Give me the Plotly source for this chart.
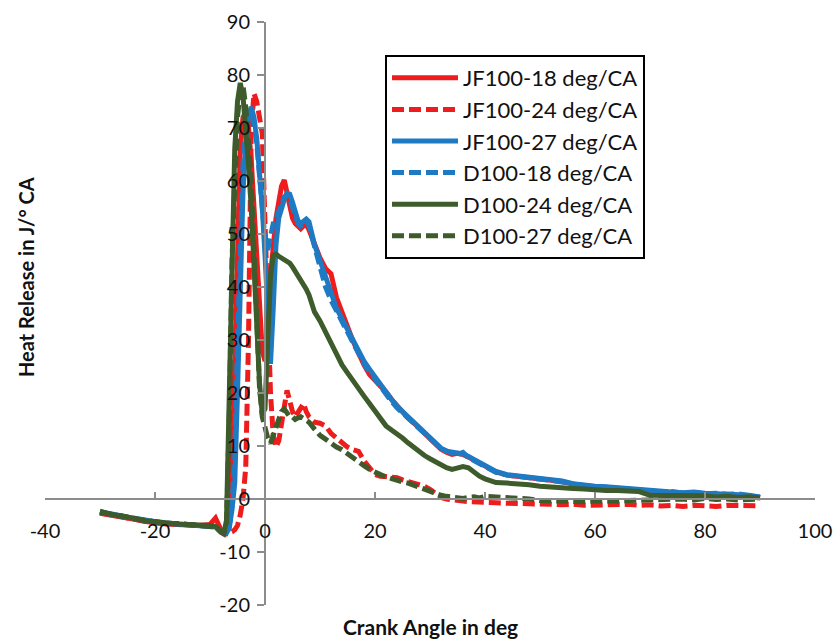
import plotly.graph_objects as go

# Crank angle grid (deg)
crank_angle = [
    -30, -28, -26, -24, -22, -20, -18, -16, -14, -12, -10,
    -9, -8, -7.5, -7, -6.5, -6, -5.5, -5, -4.5, -4,
    -3.5, -3, -2.5, -2, -1.5, -1, -0.5, 0, 0.5, 1,
    1.5, 2, 2.5, 3, 3.5, 4, 4.5, 5, 5.5, 6,
    6.5, 7, 7.5, 8, 9, 10, 11, 12, 13, 14,
    15, 16, 17, 18, 19, 20, 21, 22, 23, 24,
    25, 26, 27, 28, 29, 30, 31, 32, 33, 34,
    35, 36, 37, 38, 39, 40, 42, 44, 46, 48,
    50, 52, 54, 56, 58, 60, 62, 64, 66, 68,
    70, 72, 74, 76, 78, 80, 82, 84, 86, 88, 90,
]

jf100_18 = [
    -2.7, -3.0, -3.4, -3.8, -4.2, -4.5, -4.7, -4.8, -4.9, -5.0, -4.8,
    -3.6, -5.8, -6.3, -6.2, -4.5, 5, 28, 52, 66, 72,
    73, 70, 64, 55, 45, 35, 28, 26, 32, 42,
    49, 53, 56, 59, 60.2, 58, 55, 53, 52, 51.5,
    51, 51.5, 51.8, 50.8, 48, 45.5, 43.5, 42.5, 38, 35,
    32.5, 29.8, 27.5, 25.3, 23.5, 22.5, 21.5, 20.2, 18.8, 17.6,
    16.4, 15.3, 14.4, 13.4, 12.5, 11.6, 10.6, 9.4, 8.8, 8.4,
    8.6, 8.4, 7.9, 7.3, 6.7, 6.1, 5.1, 4.5, 4.3, 4.1,
    3.9, 3.6, 3.3, 2.8, 2.5, 2.3, 2.2, 2.0, 1.9, 1.7,
    1.4, 1.2, 1.2, 1.1, 1.2, 1.0, 0.9, 1.0, 0.8, 0.6, 0.3,
]

jf100_24 = [
    -2.6, -3.0, -3.3, -3.8, -4.2, -4.5, -4.6, -4.8, -4.9, -5.0, -5.1,
    -5.3, -6.3, -6.6, -6.6, -6.5, -6.2, -5.8, -5.0, -3.0, 0.0,
    6, 30, 70, 76.5, 75, 72, 69, 52, 34, 20,
    12, 9.8, 11, 14.5, 17, 20.5, 18.5, 16.5, 15.5, 16.5,
    17.5, 18, 16.5, 15.5, 14.5, 14.3, 13.8, 12.4, 11.5, 10.5,
    9.8, 9.3, 9.0, 7.2, 6.0, 4.6, 4.3, 4.2, 4.3, 4.0,
    3.6, 3.3, 3.0, 2.7, 2.4, 1.8, 0.9, 0.3, 0.0, -0.2,
    -0.3, -0.4, -0.5, -0.5, -0.6, -0.6, -0.7, -0.8, -0.8, -0.9,
    -1.0, -1.0, -1.1, -1.0, -1.2, -1.1, -1.2, -1.1, -1.0, -1.2,
    -1.1, -1.3, -1.2, -1.4, -1.2, -1.3, -1.4, -1.2, -1.3, -1.2, -1.3,
]

jf100_27 = [
    -2.4, -2.9, -3.2, -3.6, -4.0, -4.4, -4.6, -4.7, -4.9, -4.9, -5.1,
    -5.3, -6.1, -6.5, -6.4, -5.5, -2, 3, 20, 40, 58,
    67, 72, 74, 72, 68, 62, 55, 46, 33, 25.5,
    36, 48, 53, 55, 56.5, 57.7, 57.5, 56, 54, 52.5,
    52, 52.5, 52.8, 52.3, 48, 45, 42, 39, 36, 34,
    32, 29.5, 27.8, 26, 24.5, 23, 21.5, 20, 18.8, 17.5,
    16.5, 15.5, 14.5, 13.5, 12.6, 11.8, 10.8, 9.6, 9.0, 8.8,
    8.7, 8.5, 8.0, 7.4, 6.8, 6.2, 5.2, 4.6, 4.4, 4.2,
    4.0, 3.7, 3.4, 2.9, 2.6, 2.4, 2.3, 2.1, 2.0, 1.8,
    1.5, 1.3, 1.3, 1.2, 1.3, 1.1, 1.0, 1.1, 0.9, 0.7, 0.4,
]

d100_18 = [
    -2.5, -2.8, -3.3, -3.7, -4.1, -4.3, -4.5, -4.7, -4.8, -5.0, -5.0,
    -5.2, -6.2, -6.5, -6.3, -5.2, -1, 8, 30, 50, 63,
    70, 73, 73.5, 71, 67, 61, 54, 49, 47, 50,
    52, 53, 54, 55.5, 57, 57.5, 56.5, 55, 53, 52,
    51.5, 52, 52.5, 51.5, 47.5, 43.5, 40, 37.5, 35.5, 33.5,
    31.5, 29, 27, 25.5, 24, 22.5, 21, 19.6, 18.4, 17.2,
    16.2, 15.2, 14.2, 13.3, 12.3, 11.4, 10.4, 9.5, 9.1, 8.6,
    8.4, 8.8, 7.8, 7.2, 6.6, 6.0, 5.0, 4.5, 4.3, 4.1,
    3.8, 3.5, 3.2, 2.8, 2.5, 2.3, 2.2, 2.0, 1.9, 1.7,
    1.4, 1.2, 1.4, 1.1, 1.2, 1.0, 1.1, 0.9, 1.0, 0.6, 0.3,
]

d100_24 = [
    -2.5, -2.8, -3.3, -3.6, -4.1, -4.4, -4.5, -4.7, -4.8, -4.8, -5.0,
    -5.2, -6.0, -6.5, -4.0, 22, 50, 66, 75, 78.5, 76,
    70, 63, 55, 44, 32, 22, 16, 17, 30, 42,
    46, 46.2, 45.8, 45.5, 45.2, 45, 44.5, 43.8, 43, 42.2,
    41.3, 40.5, 39.6, 38.5, 35.3, 33.6, 31.5, 29.5, 27.5, 25.3,
    23.8, 22.2, 20.8, 19.4, 18.0, 16.6, 15.2, 13.8, 13.0, 12.3,
    11.5, 10.6, 9.7, 9.0, 8.2, 7.6, 7.0, 6.3, 5.9, 5.6,
    5.8, 6.1, 5.9, 5.0, 4.3, 3.8, 3.1, 3.0, 2.9, 2.7,
    2.4, 2.2, 2.1, 2.0, 1.9, 1.7, 1.6, 1.6, 1.5, 1.4,
    0.7, 0.7, 0.6, 0.6, 0.5, 0.6, 0.4, 0.5, 0.3, 0.4, 0.2,
]

d100_27 = [
    -2.3, -2.9, -3.2, -3.7, -4.0, -4.3, -4.6, -4.6, -4.8, -4.9, -5.0,
    -5.3, -6.2, -6.4, -5.0, 15, 45, 62, 72, 77, 78,
    74, 67, 60, 47, 35, 21, 15.5, 13.5, 11.5, 10.5,
    12, 14, 15.5, 16.5, 17, 16, 15.5, 15.5, 15, 15.3,
    15.5, 15.2, 14.8, 14.5, 13.2, 12, 11.3, 10.5, 9.8, 9.3,
    8.5, 7.8, 7.0, 6.3, 5.6, 5.0, 4.6, 4.2, 3.8, 3.6,
    3.2, 3.0, 2.6, 2.3, 2.0, 1.5, 1.0, 0.7, 0.5, 0.3,
    0.2, 0.1, 0.3, 0.4, 0.2, 0.5, 0.4, 0.3, 0.2, 0.0,
    -0.3, -0.4, -0.5, -0.4, -0.5, -0.4, -0.5, -0.4, -0.3, -0.2,
    -0.1, 0.0, -0.1, 0.0, -0.2, 0.1, -0.1, 0.0, -0.2, -0.1, 0.0,
]

series_names = ["JF100-18 deg/CA", "JF100-24 deg/CA", "JF100-27 deg/CA",
                "D100-18 deg/CA", "D100-24 deg/CA", "D100-27 deg/CA"]
series_values = [jf100_18, jf100_24, jf100_27, d100_18, d100_24, d100_27]

x_ticks = [-40, -20, 0, 20, 40, 60, 80, 100]
y_ticks = [-20, -10, 0, 10, 20, 30, 40, 50, 60, 70, 80, 90]

RED = "#EE1C1C"
BLUE = "#1F7AC4"
GREEN = "#3D5B2B"
styles = [(RED, "solid"), (RED, "12px,5px"), (BLUE, "solid"),
          (BLUE, "12px,5px"), (GREEN, "solid"), (GREEN, "12px,5px")]

FONT = "Lato, 'Open Sans', sans-serif"

fig = go.Figure()
for name, vals, (col, dash) in zip(series_names, series_values, styles):
    fig.add_trace(go.Scatter(
        x=crank_angle, y=vals, mode="lines", name=name,
        line=dict(color=col, width=5, dash=dash),
    ))

xmin, xmax = -40, 100
ymin, ymax = -20, 90
L, R, T, B = 45, 20, 22, 36
W, H = 835, 641
pw, ph = W - L - R, H - T - B


def px_x(px):
    return (px - L) / pw


def px_y(py):
    return (H - B - py) / ph


fig.update_layout(
    width=W, height=H,
    margin=dict(l=L, r=R, t=T, b=B, autoexpand=False),
    paper_bgcolor="white", plot_bgcolor="white",
    font=dict(family=FONT, size=20, color="#111111"),
    showlegend=True,
    legend=dict(
        x=px_x(385), y=px_y(55), xanchor="left", yanchor="top",
        bordercolor="black", borderwidth=2, bgcolor="white",
        font=dict(family=FONT, size=22, color="#111111"),
        itemwidth=66, tracegroupgap=0,
    ),
    xaxis=dict(
        range=[xmin, xmax], tickvals=x_ticks, ticktext=[str(v) for v in x_ticks],
        anchor="free", position=(0 - ymin) / (ymax - ymin), automargin=False,
        showgrid=False, zeroline=False,
        showline=True, linecolor="#8C8C8C", linewidth=2,
        ticks="inside", ticklen=6, tickwidth=2, tickcolor="#8C8C8C",
        ticklabelstandoff=14,
        tickfont=dict(family=FONT, size=20, color="#111111"),
    ),
    yaxis=dict(
        range=[ymin, ymax], tickvals=y_ticks, ticktext=[str(v) for v in y_ticks],
        anchor="free", position=(0 - xmin) / (xmax - xmin), automargin=False,
        showgrid=False, zeroline=False,
        showline=True, linecolor="#8C8C8C", linewidth=2,
        ticks="outside", ticklen=7, tickwidth=2, tickcolor="#8C8C8C",
        ticklabelstandoff=3,
        tickfont=dict(family=FONT, size=20, color="#111111"),
    ),
    annotations=[
        dict(text="<b>Crank Angle in deg</b>", xref="paper", yref="paper",
             x=px_x(430), y=px_y(626), xanchor="center", yanchor="middle",
             showarrow=False, font=dict(family=FONT, size=21, color="#111111")),
        dict(text="<b>Heat Release in J/° CA</b>", xref="paper", yref="paper",
             x=px_x(26), y=px_y(277), xanchor="center", yanchor="middle",
             textangle=-90, showarrow=False,
             font=dict(family=FONT, size=20, color="#111111")),
    ],
)

fig.write_html(
    "out.html",
    config={"displayModeBar": False},
    post_script="document.body.style.margin='0';document.body.style.padding='0';",
)
